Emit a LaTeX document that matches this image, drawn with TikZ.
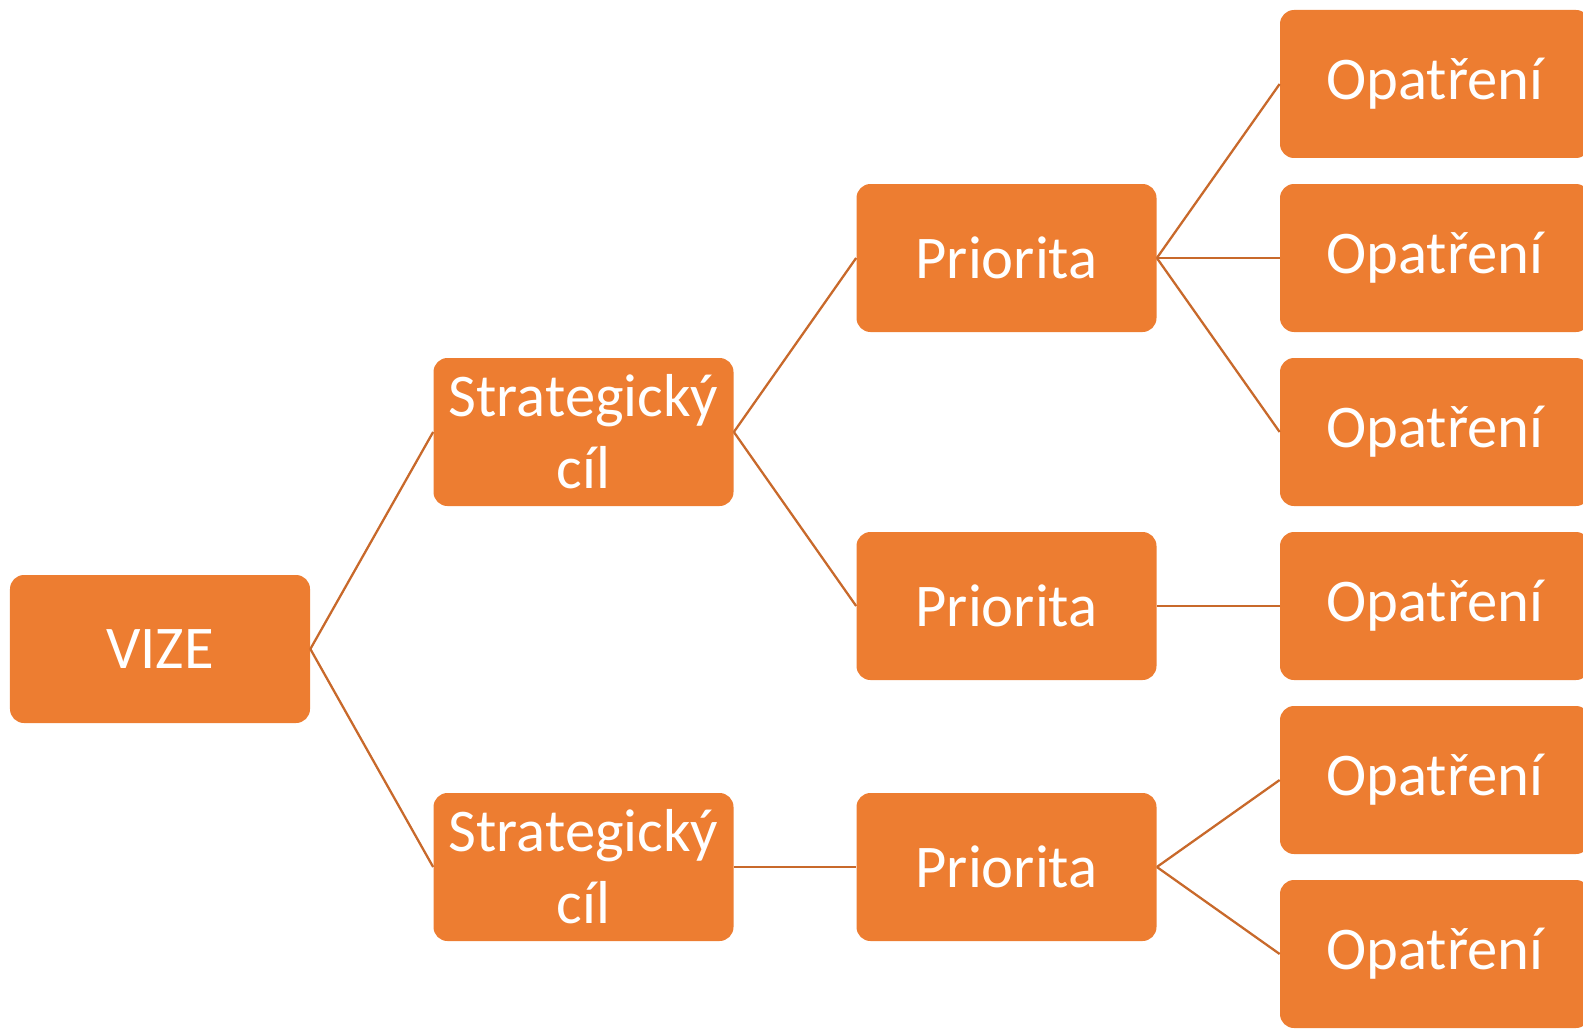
\documentclass[tikz,border=0pt]{standalone}
\usepackage{fontspec}
\setmainfont{Carlito}
\definecolor{oranzova}{HTML}{ED7D31}
\definecolor{linka}{HTML}{C8692B}
\begin{document}
\begin{tikzpicture}[
			every node/.style={rectangle, fill=oranzova, text=white, rounded corners=0.28cm, minimum width=6cm, minimum height=2.96cm, inner sep=0pt, align=center, font=\fontsize{34.5}{41}\selectfont},
			konec/.style={minimum width=6.2cm},
			spoj/.style={draw=linka, line width=1.3pt}
			]
			\useasboundingbox (0,0) rectangle (31.66,-20.7);
			
			% Nodes
			\node (v) at (3.2,-12.98) {VIZE};
			
			\node (c1) at (11.67,-8.64) {Strategický\\cíl};
			\node (c2) at (11.67,-17.34) {Strategický\\cíl};
			
			\node (p1) at (20.13,-5.16) {Priorita};
			\node (p2) at (20.13,-12.12) {Priorita};
			\node (p3) at (20.13,-17.34) {Priorita};
			
			\node[konec] (o1) at (28.7,-1.68) {Opatření};
			\node[konec] (o2) at (28.7,-5.16) {Opatření};
			\node[konec] (o3) at (28.7,-8.64) {Opatření};
			\node[konec] (o4) at (28.7,-12.12) {Opatření};
			\node[konec] (o5) at (28.7,-15.6) {Opatření};
			\node[konec] (o6) at (28.7,-19.08) {Opatření};
			
			% Edges
			\draw[spoj] (v.east) -- (c1.west);
			\draw[spoj] (v.east) -- (c2.west);
			
			\draw[spoj] (c1.east) -- (p1.west);
			\draw[spoj] (c1.east) -- (p2.west);
			\draw[spoj] (c2.east) -- (p3.west);
			
			\draw[spoj] (p1.east) -- (o1.west);
			\draw[spoj] (p1.east) -- (o2.west);
			\draw[spoj] (p1.east) -- (o3.west);
			\draw[spoj] (p2.east) -- (o4.west);
			\draw[spoj] (p3.east) -- (o5.west);
			\draw[spoj] (p3.east) -- (o6.west);
			
		\end{tikzpicture}
\end{document}
